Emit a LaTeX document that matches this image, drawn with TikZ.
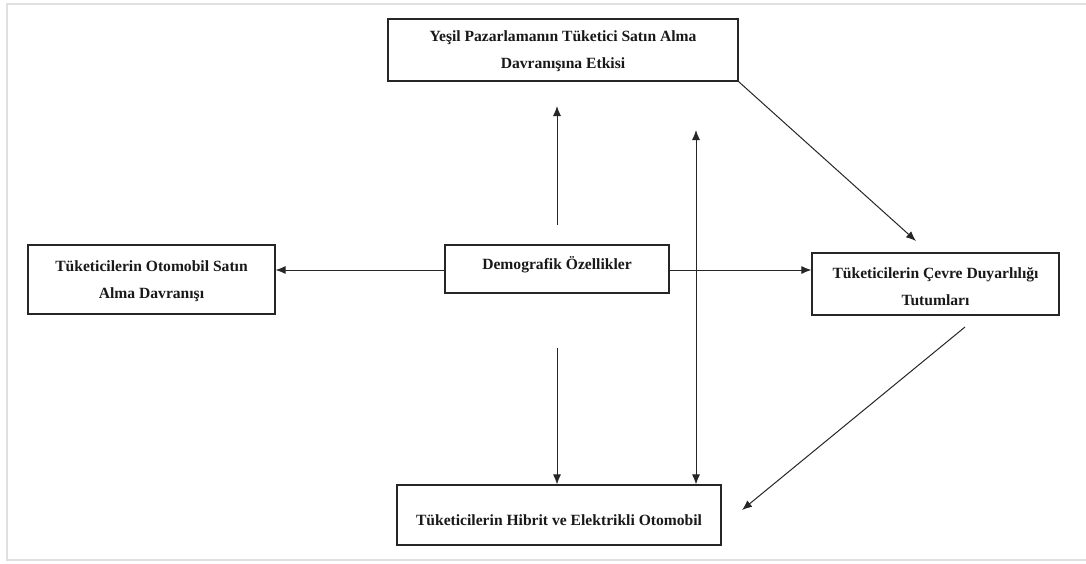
\documentclass[tikz,border=0pt]{standalone}
\usepackage{fontspec}
\setmainfont{Liberation Serif}
\usetikzlibrary{arrows.meta}
\begin{document}
\begin{tikzpicture}[x=1pt,y=-1pt,
  box/.style={draw=black!85, line width=1.2pt, rectangle, inner sep=0pt},
  lbl/.style={align=center, inner sep=0pt, font=\fontsize{15.6}{27}\selectfont\bfseries, text=black!90},
  conn/.style={draw=black!85, line width=1pt, -{Latex[length=10pt,width=8pt]}},
  dconn/.style={draw=black!85, line width=1pt, {Latex[length=10pt,width=8pt]}-{Latex[length=10pt,width=8pt]}}]
  % canvas and page frame
  \fill[white] (0,0) rectangle (1086,563);
  \useasboundingbox (0,0) rectangle (1086,563);
  \draw[black!12, line width=2.5pt] (1086,4) -- (7,4) -- (7,560) -- (1086,560);

  % boxes
  \node[box, minimum width=350pt, minimum height=62pt] (green) at (563,50) {};
  \node[lbl] (green-t) at (563,51) {Yeşil Pazarlamanın Tüketici Satın Alma\\Davranışına Etkisi};

  \node[box, minimum width=247pt, minimum height=69pt] (buy) at (151.5,279.5) {};
  \node[lbl] (buy-t) at (151.5,281) {Tüketicilerin Otomobil Satın\\Alma Davranışı};

  \node[box, minimum width=224pt, minimum height=48pt] (demo) at (557,269) {};
  \node[lbl] (demo-t) at (557,265) {Demografik Özellikler};

  \node[box, minimum width=247pt, minimum height=62pt] (env) at (935.5,284) {};
  \node[lbl] (env-t) at (935.5,286.5) {Tüketicilerin Çevre Duyarlılığı\\Tutumları};

  \node[box, minimum width=324pt, minimum height=60pt] (hyb) at (559,515) {};
  \node[lbl] (hyb-t) at (559,520) {Tüketicilerin Hibrit ve Elektrikli Otomobil};

  % free ends of the connectors
  \coordinate (upA) at (557,225);
  \coordinate (upB) at (557,106);
  \coordinate (dn) at (557,348);
  \coordinate (lng) at (696,130);
  \coordinate (tip1) at (916,241);
  \coordinate (src2) at (965,327);
  \coordinate (tip2) at (742,510);

  % connectors
  \draw[conn] (demo.west |- 0,270) -- (buy.east |- 0,270);
  \draw[conn] (demo.east |- 0,270) -- (env.west |- 0,270);
  \draw[conn] (upA) -- (upB);
  \draw[conn] (dn) -- (dn |- hyb.north);
  \draw[dconn] (lng) -- (lng |- hyb.north);
  \draw[conn] (green.south east) -- (tip1);
  \draw[conn] (src2) -- (tip2);
\end{tikzpicture}
\end{document}
